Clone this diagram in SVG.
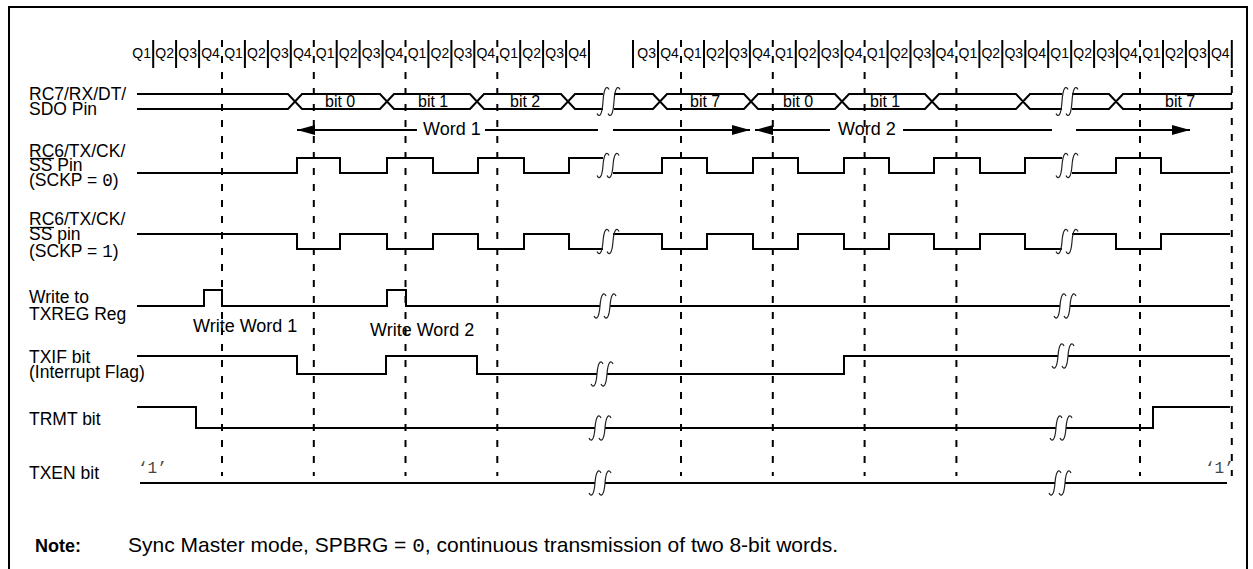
<svg xmlns="http://www.w3.org/2000/svg" width="1253" height="569" viewBox="0 0 1253 569">
<style>
  .sig{fill:none;stroke:#000;stroke-width:2}
  .brk{fill:none;stroke:#222;stroke-width:1.2}
  .dash{stroke:#000;stroke-width:2;stroke-dasharray:7 9}
  .tick{stroke:#000;stroke-width:2}
  .ovl{stroke:#000;stroke-width:1.3}
  .frame{fill:none;stroke:#000;stroke-width:2}
  text{font-family:"Liberation Sans",Arial,sans-serif;fill:#000}
  .lbl{font-size:17.5px}
  .q{font-size:14px;text-anchor:middle}
  .bit{font-size:16px}
  .big{font-size:18px}
  .mono{font-family:"Liberation Mono","Courier New",monospace}
  .one{font-family:"Liberation Mono","Courier New",monospace;font-size:16px;fill:#444}
  .arr{fill:none;stroke:#000;stroke-width:2}
</style>
<defs>
  <marker id="ah" viewBox="0 0 18 10" refX="18" refY="5" markerWidth="18" markerHeight="10" markerUnits="userSpaceOnUse" orient="auto">
    <path d="M0,0 L18,5 L0,10 z" fill="#000"/>
  </marker>
  <path id="sq" class="brk" d="M-6,10 C-4,14 -1,13 0,0 C1,-13 4,-14 6,-10"/>
  <path id="sqb" class="brk" d="M-6,12 C-4,16 -1,15 0,0 C1,-15 4,-16 6,-12"/>
</defs>
<rect width="1253" height="569" fill="#fff"/>
<g id="frame">
  <path class="frame" d="M9,569 V7 H1247 V569"/>
</g>
<g id="qrow">
  <g class="q">
    <text x="141.7" y="58">Q1</text><text x="164.7" y="58">Q2</text><text x="187.6" y="58">Q3</text><text x="210.5" y="58">Q4</text>
    <text x="233.5" y="58">Q1</text><text x="256.4" y="58">Q2</text><text x="279.4" y="58">Q3</text><text x="302.3" y="58">Q4</text>
    <text x="325.2" y="58">Q1</text><text x="348.2" y="58">Q2</text><text x="371.1" y="58">Q3</text><text x="394" y="58">Q4</text>
    <text x="417" y="58">Q1</text><text x="439.9" y="58">Q2</text><text x="462.9" y="58">Q3</text><text x="485.8" y="58">Q4</text>
    <text x="508.7" y="58">Q1</text><text x="531.7" y="58">Q2</text><text x="554.6" y="58">Q3</text><text x="577.5" y="58">Q4</text>
    <text x="646.6" y="58">Q3</text><text x="669.5" y="58">Q4</text>
    <text x="692.5" y="58">Q1</text><text x="715.4" y="58">Q2</text><text x="738.4" y="58">Q3</text><text x="761.3" y="58">Q4</text>
    <text x="784.3" y="58">Q1</text><text x="807.2" y="58">Q2</text><text x="830.2" y="58">Q3</text><text x="853.1" y="58">Q4</text>
    <text x="876.1" y="58">Q1</text><text x="899" y="58">Q2</text><text x="922" y="58">Q3</text><text x="944.9" y="58">Q4</text>
    <text x="967.9" y="58">Q1</text><text x="990.8" y="58">Q2</text><text x="1013.8" y="58">Q3</text><text x="1036.7" y="58">Q4</text>
    <text x="1059.7" y="58">Q1</text><text x="1082.6" y="58">Q2</text><text x="1105.6" y="58">Q3</text><text x="1128.5" y="58">Q4</text>
    <text x="1151.5" y="58">Q1</text><text x="1174.4" y="58">Q2</text><text x="1197.4" y="58">Q3</text><text x="1220.3" y="58">Q4</text>
  </g>
  <path class="tick" d="M153.2,40V68M176.1,40V68M199.1,40V68M244.9,40V68M267.9,40V68M290.8,40V68M336.7,40V68M359.6,40V68M382.6,40V68M428.4,40V68M451.4,40V68M474.3,40V68M520.2,40V68M543.1,40V68M566.1,40V68M589,40V68
  M633,40V68M658,40V68M704,40V68M726.9,40V68M749.9,40V68M795.8,40V68M818.7,40V68M841.7,40V68M887.6,40V68M910.5,40V68M933.5,40V68M979.4,40V68M1002.3,40V68M1025.3,40V68M1048.2,40V68M1071.2,40V68M1094.1,40V68M1117.1,40V68M1163,40V68M1185.9,40V68M1208.9,40V68M1231.8,40V68"/>
</g>
<g id="guides">
  <path class="dash" d="M222,40V476M313.8,40V476M405.5,40V476M497.3,40V476M681,40V476M772.8,40V476M864.6,40V476M956.4,40V476M1140,40V476M1231.8,70V476"/>
</g>
<g id="connectors">
  <path class="arr" d="M417,130 H297" marker-end="url(#ah)"/>
  <path class="arr" d="M485,130 H598"/>
  <path class="arr" d="M613,130 H750" marker-end="url(#ah)"/>
  <path class="arr" d="M830,130 H755" marker-end="url(#ah)"/>
  <path class="arr" d="M903,130 H1052"/>
  <path class="arr" d="M1076,130 H1190" marker-end="url(#ah)"/>
  <text class="big" x="423" y="135">Word 1</text>
  <text class="big" x="838" y="135">Word 2</text>
</g>
<g id="sig-rc7">
  <text class="lbl" x="29" y="100">RC7/RX/DT/</text>
  <text class="lbl" x="29" y="115">SDO Pin</text>
  <path class="sig" d="M137,94 H288 L295,101.5 L288,109 H137
  M295,101.5 L302,94 H380 L387,101.5 L380,109 H302 Z
  M387,101.5 L394,94 H470 L477,101.5 L470,109 H394 Z
  M477,101.5 L484,94 H561 L568,101.5 L561,109 H484 Z
  M568,101.5 L575,94 H603 M568,101.5 L575,109 H603
  M614,94 H653 L660,101.5 L653,109 H614
  M660,101.5 L667,94 H744 L751,101.5 L744,109 H667 Z
  M751,101.5 L758,94 H835 L842,101.5 L835,109 H758 Z
  M842,101.5 L849,94 H925 L932,101.5 L925,109 H849 Z
  M932,101.5 L939,94 H1016 L1023,101.5 L1016,109 H939 Z
  M1023,101.5 L1030,94 H1062 M1023,101.5 L1030,109 H1062
  M1072,94 H1109 L1116,101.5 L1109,109 H1072
  M1116,101.5 L1123,94 H1232 M1116,101.5 L1123,109 H1232"/>
  <use href="#sqb" x="603" y="101.5"/><use href="#sqb" x="614" y="101.5"/>
  <use href="#sqb" x="1062" y="101.5"/><use href="#sqb" x="1072" y="101.5"/>
  <g class="bit">
    <text x="325" y="107">bit 0</text><text x="418" y="107">bit 1</text><text x="510" y="107">bit 2</text>
    <text x="690" y="107">bit 7</text><text x="783" y="107">bit 0</text><text x="870" y="107">bit 1</text><text x="1165" y="107">bit 7</text>
  </g>
</g>
<g id="sig-sck0">
  <text class="lbl" x="29" y="157">RC6/TX/CK/</text>
  <text class="lbl" x="29" y="171">SS Pin</text>
  <path class="ovl" d="M30,158.5 H54"/>
  <text class="lbl" x="29" y="186">(SCKP = <tspan class="mono">0</tspan>)</text>
  <path class="sig" d="M137,173 H297 V158 H340 V173 H387 V158 H433 V173 H478 V158 H524 V173 H569 V158 H603
  M613,173 H662 V158 H707 V173 H753 V158 H798 V173 H844 V158 H889 V173 H934 V158 H980 V173 H1025 V158 H1062
  M1072,173 H1116 V158 H1161 V173 H1230"/>
  <use href="#sq" x="603" y="165.5"/><use href="#sq" x="613" y="165.5"/>
  <use href="#sq" x="1062" y="165.5"/><use href="#sq" x="1072" y="165.5"/>
</g>
<g id="sig-sck1">
  <text class="lbl" x="29" y="225">RC6/TX/CK/</text>
  <text class="lbl" x="29" y="240">SS pin</text>
  <path class="ovl" d="M30,227.5 H54"/>
  <text class="lbl" x="29" y="257">(SCKP = <tspan class="mono">1</tspan>)</text>
  <path class="sig" d="M137,234 H297 V249 H340 V234 H387 V249 H433 V234 H478 V249 H524 V234 H569 V249 H603
  M613,234 H662 V249 H707 V234 H753 V249 H798 V234 H844 V249 H889 V234 H934 V249 H980 V234 H1025 V249 H1062
  M1072,234 H1116 V249 H1161 V234 H1230"/>
  <use href="#sq" x="603" y="241.5"/><use href="#sq" x="613" y="241.5"/>
  <use href="#sq" x="1062" y="241.5"/><use href="#sq" x="1072" y="241.5"/>
</g>
<g id="sig-write">
  <text class="lbl" x="29" y="303">Write to</text>
  <text class="lbl" x="29" y="320">TXREG Reg</text>
  <path class="sig" d="M137,306 H204 V290 H222 V306 H387 V290 H406 V306 H600 M610,306 H1060 M1070,306 H1230"/>
  <use href="#sq" x="600" y="306"/><use href="#sq" x="610" y="306"/>
  <use href="#sq" x="1060" y="306"/><use href="#sq" x="1070" y="306"/>
  <text class="big" x="193" y="332">Write Word 1</text>
  <text class="big" x="370" y="336">Write Word 2</text>
</g>
<g id="sig-txif">
  <text class="lbl" x="29" y="363">TXIF bit</text>
  <text class="lbl" x="29" y="378">(Interrupt Flag)</text>
  <path class="sig" d="M137,356 H297 V374 H386 V356 H477 V374 H597 M607,374 H844 V356 H1058 M1068,356 H1230"/>
  <use href="#sq" x="597" y="374"/><use href="#sq" x="607" y="374"/>
  <use href="#sq" x="1058" y="356"/><use href="#sq" x="1068" y="356"/>
</g>
<g id="sig-trmt">
  <text class="lbl" x="29" y="425">TRMT bit</text>
  <path class="sig" d="M137,407 H196 V428 H595 M605,428 H1056 M1066,428 H1153 V407 H1230"/>
  <use href="#sq" x="595" y="428"/><use href="#sq" x="605" y="428"/>
  <use href="#sq" x="1056" y="428"/><use href="#sq" x="1066" y="428"/>
</g>
<g id="sig-txen">
  <text class="lbl" x="29" y="479">TXEN bit</text>
  <text class="one" x="138" y="473">‘1’</text>
  <text class="one" x="1205" y="473">‘1’</text>
  <path class="sig" d="M140,483 H595 M605,483 H1055 M1065,483 H1227"/>
  <use href="#sq" x="595" y="483"/><use href="#sq" x="605" y="483"/>
  <use href="#sq" x="1055" y="483"/><use href="#sq" x="1065" y="483"/>
</g>
<g id="note">
  <text x="35" y="552" style="font-size:18px;font-weight:bold">Note:</text>
  <text x="128" y="552" style="font-size:21px">Sync Master mode, SPBRG = <tspan class="mono">0</tspan>, continuous transmission of two 8-bit words.</text>
</g>
</svg>
